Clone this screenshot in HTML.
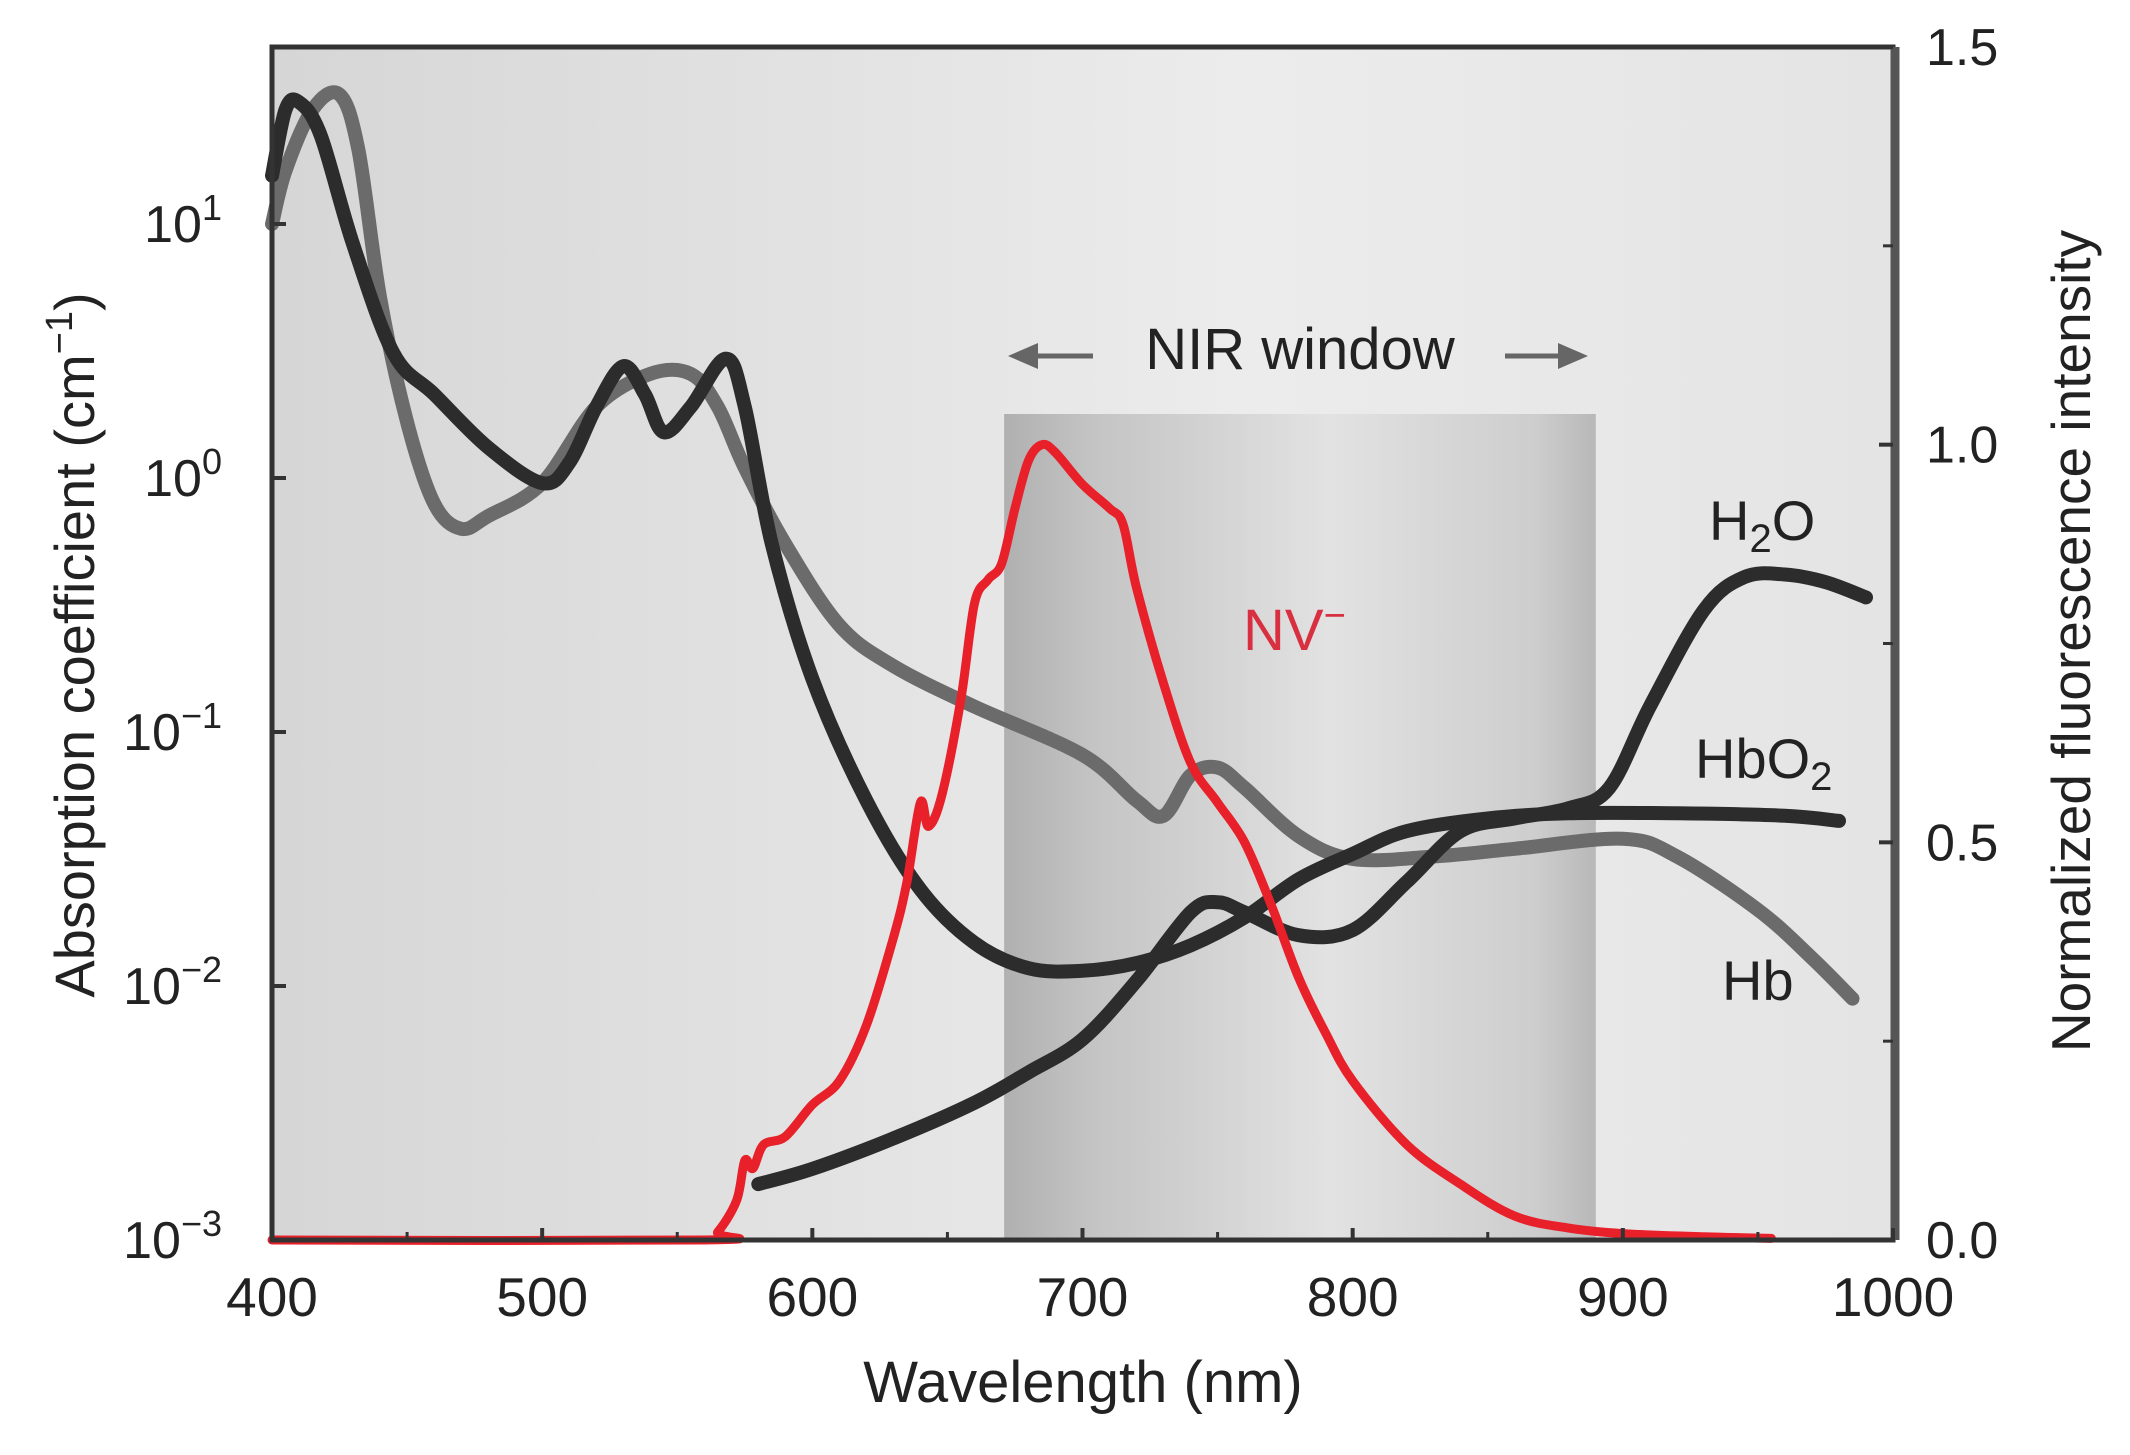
<!DOCTYPE html>
<html><head><meta charset="utf-8"><style>
html,body{margin:0;padding:0;background:#fff;width:2130px;height:1455px;overflow:hidden}
svg text{font-family:"Liberation Sans",sans-serif}
</style></head><body>
<svg id="chart" width="2130" height="1455" viewBox="0 0 2130 1455" xmlns="http://www.w3.org/2000/svg">
<defs>
<linearGradient id="bg" x1="0" x2="1" y1="0" y2="0"><stop offset="0" stop-color="#d6d6d6"/><stop offset="0.6" stop-color="#ececec"/><stop offset="1" stop-color="#e4e4e4"/></linearGradient>
<linearGradient id="nir" x1="0" x2="1" y1="0" y2="0"><stop offset="0" stop-color="#b0b0b0"/><stop offset="0.15" stop-color="#c4c4c4"/><stop offset="0.55" stop-color="#e2e2e2"/><stop offset="0.9" stop-color="#cdcdcd"/><stop offset="1" stop-color="#b8b8b8"/></linearGradient>
</defs>
<g id="plot"></g>
</svg>
<script>
const hbX=[400,405,415,425,432,440,450,460,470,480,500,520,540,555,565,575,590,610,630,660,700,720,730,740,750,760,780,800,830,860,900,920,950,970,985];
const hbY=[1.0,1.21,1.45,1.51,1.29,0.71,0.22,-0.10,-0.20,-0.15,-0.02,0.28,0.41,0.41,0.28,0.04,-0.26,-0.58,-0.74,-0.90,-1.09,-1.27,-1.33,-1.17,-1.14,-1.22,-1.41,-1.50,-1.49,-1.46,-1.42,-1.49,-1.70,-1.89,-2.05];
const hbo2X=[400,405,410,418,430,445,460,480,500,510,520,530,538,545,555,568,575,585,600,620,640,660,680,700,720,740,760,780,800,820,850,880,920,960,980];
const hbo2Y=[1.19,1.45,1.48,1.35,0.92,0.49,0.33,0.12,-0.02,0.06,0.28,0.44,0.33,0.18,0.28,0.47,0.28,-0.26,-0.79,-1.27,-1.62,-1.83,-1.93,-1.94,-1.91,-1.84,-1.73,-1.58,-1.48,-1.39,-1.34,-1.32,-1.32,-1.33,-1.35];
const h2oX=[580,600,630,660,680,700,720,740,750,760,780,800,820,840,860,880,895,910,930,945,960,975,990];
const h2oY=[-2.78,-2.72,-2.60,-2.46,-2.34,-2.21,-1.98,-1.71,-1.67,-1.71,-1.80,-1.78,-1.59,-1.39,-1.34,-1.30,-1.22,-0.90,-0.52,-0.39,-0.38,-0.41,-0.47];
const nvX=[400,560,565,572,575,578,582,590,600,610,620,630,635,640,643,648,655,660,665,670,675,680,685,690,700,710,715,720,730,740,750,760,770,780,790,800,820,840,860,880,900,930,955];
const nvY=[0,0,0.01,0.05,0.1,0.09,0.12,0.13,0.17,0.2,0.27,0.38,0.45,0.55,0.52,0.56,0.68,0.8,0.83,0.85,0.92,0.98,1.0,0.99,0.95,0.92,0.9,0.82,0.7,0.6,0.55,0.5,0.42,0.33,0.26,0.2,0.12,0.07,0.03,0.015,0.008,0.004,0.002];
const xTicks=[400,500,600,700,800,900,1000];
const yTicks=[1,0,-1,-2,-3];
const y2Ticks=["0.0","0.5","1.0","1.5"];

const L=272,R=1893,T=47,B=1240;
const X=v=>L+(v-400)*(R-L)/600;
const Y=lg=>B-(lg+3)*254;
const Y2=v=>B-v*(B-T)/1.5;
const NS="http://www.w3.org/2000/svg";
const g=document.getElementById('plot');
function mk(tag,attrs,parent){const e=document.createElementNS(NS,tag);for(const k in attrs)e.setAttribute(k,attrs[k]);(parent||g).appendChild(e);return e;}

let e=mk('rect',{x:L,y:T,width:R-L,height:B-T,fill:'url(#bg)'});


e=mk('rect',{x:X(671),y:414,width:X(890)-X(671),height:B-414,fill:'url(#nir)'});



function line(xs,ys,fy,color,w,name){
  const P=xs.map((x,i)=>[X(x),fy(ys[i])]);
  let d='M'+P[0][0].toFixed(1)+','+P[0][1].toFixed(1);
  for(let i=0;i<P.length-1;i++){
    const p0=P[Math.max(0,i-1)],p1=P[i],p2=P[i+1],p3=P[Math.min(P.length-1,i+2)];
    const c1=[p1[0]+(p2[0]-p0[0])/6,p1[1]+(p2[1]-p0[1])/6];
    const c2=[p2[0]-(p3[0]-p1[0])/6,p2[1]-(p3[1]-p1[1])/6];
    d+=` C${c1[0].toFixed(1)},${c1[1].toFixed(1)} ${c2[0].toFixed(1)},${c2[1].toFixed(1)} ${p2[0].toFixed(1)},${p2[1].toFixed(1)}`;
  }
  const p=mk('path',{d:d,fill:'none',stroke:color,'stroke-width':w,'stroke-linejoin':'round','stroke-linecap':'round'});
  
  
}
line(hbX,hbY,Y,'#6b6b6b',14,'hb-curve');
line(hbo2X,hbo2Y,Y,'#2c2c2c',14,'hbo2-curve');
line(h2oX,h2oY,Y,'#2c2c2c',14,'h2o-curve');
line(nvX,nvY,Y2,'#e8202a',9,'nv-fluorescence-curve');

e=mk('path',{d:`M${L},${T} H${R} V${B} H${L} Z`,fill:'none',stroke:'#333','stroke-width':5});


e=mk('line',{x1:R+2,y1:T,x2:R+2,y2:B,stroke:'#555','stroke-width':9});



xTicks.forEach(v=>{
  const t=mk('line',{x1:X(v),y1:B,x2:X(v),y2:B-12,stroke:'#333','stroke-width':4});
  
  
  const s=mk('text',{x:X(v),y:1316,'font-size':55,'text-anchor':'middle',fill:'#222'});
  s.textContent=v;
  
  
});
for(let v=450;v<1000;v+=100){
  const t=mk('line',{x1:X(v),y1:B,x2:X(v),y2:B-8,stroke:'#333','stroke-width':3});
  
  
}
yTicks.forEach(v=>{
  const t=mk('line',{x1:L,y1:Y(v),x2:L+14,y2:Y(v),stroke:'#333','stroke-width':4});
  
  
  const s=mk('text',{x:222,y:Y(v)+18,'font-size':52,'text-anchor':'end',fill:'#222'});
  s.textContent='10';
  const sp=mk('tspan',{dy:-22,'font-size':36},s);
  sp.textContent=(v<0?'\u2212':'')+Math.abs(v);
  
  
});
y2Ticks.forEach(v=>{
  const yy=Y2(parseFloat(v));
  const t=mk('line',{x1:R,y1:yy,x2:R-14,y2:yy,stroke:'#333','stroke-width':4});
  
  
  const s=mk('text',{x:1926,y:yy+18,'font-size':52,fill:'#222'});
  s.textContent=v;
  
  
});
[0.25,0.75,1.25].forEach(v=>{
  const t=mk('line',{x1:R,y1:Y2(v),x2:R-10,y2:Y2(v),stroke:'#333','stroke-width':3});
  
  
});

function txt(x,y,s,size,name,attrs){
  const t=mk('text',Object.assign({x:x,y:y,'font-size':size,fill:'#222'},attrs||{}));
  t.innerHTML=s;
  
  
  return t;
}
txt(1083,1402,'Wavelength (nm)',58,'x-axis-title',{'text-anchor':'middle'});
txt(0,0,'Absorption coefficient (cm<tspan dy="-22" font-size="38">\u22121</tspan><tspan dy="22">)</tspan>',56,'y-axis-title',{'text-anchor':'middle',transform:'translate(94,645) rotate(-90)'});
txt(0,0,'Normalized fluorescence intensity',55,'y2-axis-title',{'text-anchor':'middle',transform:'translate(2090,641) rotate(-90)'});
txt(1300,369,'NIR window',58,'nir-window-label',{'text-anchor':'middle'});
txt(1709,540,'H<tspan dy="12" font-size="40">2</tspan><tspan dy="-12">O</tspan>',56,'h2o-label');
txt(1695,778,'HbO<tspan dy="12" font-size="40">2</tspan>',56,'hbo2-label');
txt(1722,1000,'Hb',56,'hb-label');
txt(1243,650,'NV<tspan dy="-22" font-size="38">\u2212</tspan>',58,'nv-label',{fill:'#d83040'});
function arrow(x1,x2,name){
  const dir=x2>x1?1:-1;
  const a=mk('g',{});
  
  
  mk('line',{x1:x1,y1:356,x2:x2-dir*20,y2:356,stroke:'#666','stroke-width':5},a);
  mk('polygon',{points:`${x2},356 ${x2-dir*30},343 ${x2-dir*30},369`,fill:'#666'},a);
}
arrow(1093,1008,'nir-left-arrow');
arrow(1505,1588,'nir-right-arrow');
</script>
</body></html>
